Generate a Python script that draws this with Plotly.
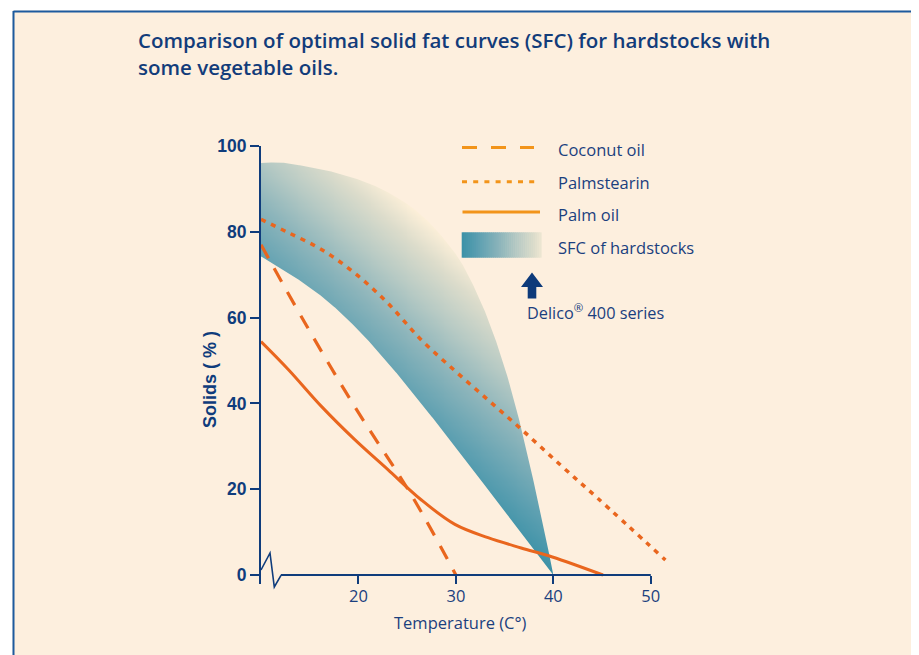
import numpy as np
import plotly.graph_objects as go

# ---------------- data ----------------
coconut_t = [10, 14.5, 19.6, 25.5, 30]
coconut_v = [77, 58.8, 39.3, 18.4, 0]

stearin_t = [10, 12.8, 16.2, 19.6, 23.0, 26.4, 29.9, 33.3, 36.7, 40.8, 44.5, 51.5]
stearin_v = [82.9, 79.8, 75.9, 70.4, 63.4, 54.9, 47.6, 40.8, 34.0, 25.5, 18.0, 3.5]

palm_t = [10, 12.8, 16.2, 19.6, 23.0, 26.4, 29.9, 33.3, 36.7, 39.9, 45.1]
palm_v = [54.4, 47.9, 39.3, 31.6, 24.6, 17.6, 11.8, 8.7, 6.3, 4.2, 0]

sfc_upper_t = [10, 11.5, 14.5, 19.6, 24.8, 29.9, 32.4, 34.5, 36.0, 37.2, 38.3, 39.2, 40]
sfc_upper_v = [96, 96.2, 95.3, 92.5, 86.8, 75.1, 64.5, 52.0, 40.5, 29.5, 18.5, 9.0, 0]
sfc_lower_t = [10, 12.8, 16.2, 19.6, 23.0, 26.4, 29.9, 33.3, 36.7, 40]
sfc_lower_v = [74.3, 70.4, 65.0, 58.0, 49.5, 40.1, 30.0, 19.9, 9.8, 0]

x_ticks = [20, 30, 40, 50]
y_ticks = [0, 20, 40, 60, 80, 100]

legend_labels = ["Coconut oil", "Palmstearin", "Palm oil", "SFC of hardstocks"]
title_text = "Comparison of optimal solid fat curves (SFC) for hardstocks with<br>some vegetable oils."
note_text = "Delico<sup>®</sup> 400 series"
x_title = "Temperature (C°)"
y_title = "Solids ( % )"

# ---------------- styles ----------------
BG = "#FDEFDE"
NAVY = "#0f3c7c"
TXT = "#1b3f7e"
LINE = "#E9661E"
LEG = "#F2941A"
GRAD = [[0.0, "#3b91a7"], [0.2, "#5ea0b1"], [0.45, "#8db5bb"], [0.65, "#b7cac4"],
        [0.85, "#dcdccb"], [1.0, "#fcefd8"]]

# the page body has an 8px margin: the figure is placed at (8, 8) in the window
OFF = 8
W, H = 919 - OFF, 655 - OFF
L, R, T, B = 253, 239, 138, 71
PW, PH = W - L - R, H - T - B
PLOT_X0 = OFF + L          # page x of plot left edge
PLOT_Y1 = OFF + T + PH     # page y of plot bottom edge
XR = [10, 53]
YR = [-2.1, 100]


def px(x):      # page pixel x -> paper
    return (x - PLOT_X0) / PW


def py(y):      # page pixel y -> paper
    return (PLOT_Y1 - y) / PH


def pchip(xk, yk, x):
    xk = np.asarray(xk, float)
    yk = np.asarray(yk, float)
    h = np.diff(xk)
    d = np.diff(yk) / h
    n = len(xk)
    m = np.zeros(n)
    for i in range(1, n - 1):
        if d[i - 1] * d[i] > 0:
            w1 = 2 * h[i] + h[i - 1]
            w2 = h[i] + 2 * h[i - 1]
            m[i] = (w1 + w2) / (w1 / d[i - 1] + w2 / d[i])
    m[0] = d[0]
    m[-1] = d[-1]
    idx = np.clip(np.searchsorted(xk, x) - 1, 0, n - 2)
    t = (x - xk[idx]) / h[idx]
    h00 = 2 * t**3 - 3 * t**2 + 1
    h10 = t**3 - 2 * t**2 + t
    h01 = -2 * t**3 + 3 * t**2
    h11 = t**3 - t**2
    return (h00 * yk[idx] + h10 * h[idx] * m[idx]
            + h01 * yk[idx + 1] + h11 * h[idx] * m[idx + 1])


def hex2rgb(c):
    c = c.lstrip("#")
    return [int(c[i:i + 2], 16) for i in (0, 2, 4)]


def scale_color(f):
    for (a, ca), (b, cb) in zip(GRAD[:-1], GRAD[1:]):
        if a <= f <= b:
            u = (f - a) / (b - a)
            A, Bc = hex2rgb(ca), hex2rgb(cb)
            return "rgb(%d,%d,%d)" % tuple(round(A[k] + (Bc[k] - A[k]) * u) for k in range(3))
    return GRAD[-1][1]


fig = go.Figure()

# ---------------- SFC band: gradient heatmap, trimmed by vector masks ----------------
gx = np.arange(10, 40.0001, 0.1)
gy = np.arange(-1, 98.0, 0.25)
up = pchip(sfc_upper_t, sfc_upper_v, gx)
lo = pchip(sfc_lower_t, sfc_lower_v, gx)
XX, YY = np.meshgrid(gx, gy)
zz = 8.775 * XX + 4.29 * YY
inside = (YY >= lo[None, :] - 1.2) & (YY <= up[None, :] + 1.2)
zz = np.where(inside, zz, np.nan).astype(np.float32)
fig.add_trace(go.Heatmap(x=gx, y=gy, z=zz, colorscale=GRAD, zmin=351, zmax=592,
                         showscale=False, hoverinfo="skip", zsmooth=False))

dx = np.linspace(10, 40, 400)
up_d = pchip(sfc_upper_t, sfc_upper_v, dx)
lo_d = pchip(sfc_lower_t, sfc_lower_v, dx)
mask_style = dict(mode="lines", fill="toself", fillcolor=BG, line=dict(width=0),
                  hoverinfo="skip", showlegend=False)
fig.add_trace(go.Scatter(x=np.concatenate([[9.5], dx, [40.6, 40.6, 9.5]]),
                         y=np.concatenate([[up_d[0]], up_d, [-0.3, 101, 101]]), **mask_style))
fig.add_trace(go.Scatter(x=np.concatenate([[9.5], dx, [40.6, 40.6, 9.5]]),
                         y=np.concatenate([[lo_d[0]], lo_d, [-0.3, -3, -3]]), **mask_style))

# ---------------- lines ----------------
fig.add_trace(go.Scatter(x=coconut_t, y=coconut_v, mode="lines", name=legend_labels[0],
                         line=dict(color=LINE, width=3.2, dash="15px,12px", shape="spline")))
fig.add_trace(go.Scatter(x=stearin_t, y=stearin_v, mode="lines", name=legend_labels[1],
                         line=dict(color=LINE, width=3.5, dash="5px,6px", shape="spline")))
fig.add_trace(go.Scatter(x=palm_t, y=palm_v, mode="lines", name=legend_labels[2],
                         line=dict(color=LINE, width=3, shape="spline")))

shapes = []
# page frame
shapes.append(dict(type="rect", xref="paper", yref="paper", x0=px(0), x1=px(930),
                   y0=py(10.5), y1=py(0), fillcolor="white", line=dict(width=0), layer="below"))
shapes.append(dict(type="rect", xref="paper", yref="paper", x0=px(0), x1=px(12.5),
                   y0=py(660), y1=py(0), fillcolor="white", line=dict(width=0), layer="below"))
shapes.append(dict(type="line", xref="paper", yref="paper", x0=px(13.5), x1=px(930),
                   y0=py(11.5), y1=py(11.5), line=dict(color="#1d5a9e", width=2)))
shapes.append(dict(type="line", xref="paper", yref="paper", x0=px(13.5), x1=px(13.5),
                   y0=py(11), y1=py(660), line=dict(color="#1d5a9e", width=2)))

# x axis line with break
shapes.append(dict(type="path", xref="paper", yref="paper",
                   path="M %f,%f L %f,%f L %f,%f L %f,%f" % (px(261), py(570), px(270), py(553),
                                                           px(274.3), py(587), px(281), py(575.3)),
                   line=dict(color=NAVY, width=1.6)))
shapes.append(dict(type="line", xref="x", yref="y", x0=12.03, x1=50, y0=0, y1=0,
                   line=dict(color=NAVY, width=2)))

# legend samples
shapes.append(dict(type="line", xref="paper", yref="paper", x0=px(462), x1=px(534),
                   y0=py(147.5), y1=py(147.5), line=dict(color=LEG, width=3, dash="15px,14px")))
shapes.append(dict(type="line", xref="paper", yref="paper", x0=px(462), x1=px(537),
                   y0=py(181.7), y1=py(181.7), line=dict(color=LEG, width=3, dash="5px,6.2px")))
shapes.append(dict(type="line", xref="paper", yref="paper", x0=px(462.5), x1=px(540),
                   y0=py(212), y1=py(212), line=dict(color=LEG, width=3)))
n_sw = 40
x_sw0, x_sw1 = 461.7, 541
for i in range(n_sw):
    a = x_sw0 + (x_sw1 - x_sw0) * i / n_sw
    b = x_sw0 + (x_sw1 - x_sw0) * (i + 1) / n_sw
    shapes.append(dict(type="rect", xref="paper", yref="paper", x0=px(a), x1=px(b + 0.6),
                       y0=py(257.7), y1=py(232.3),
                       fillcolor=scale_color(0.93 * (i + 0.5) / n_sw), line=dict(width=0)))
# arrow
shapes.append(dict(type="path", xref="paper", yref="paper",
                   path="M %f,%f L %f,%f L %f,%f L %f,%f L %f,%f L %f,%f L %f,%f Z" % (
                       px(532), py(272.5), px(543), py(287), px(536.3), py(287), px(536.3), py(298.5),
                       px(527.7), py(298.5), px(527.7), py(287), px(521), py(287)),
                   fillcolor="#0d3a7a", line=dict(width=0)))

annotations = []
annotations.append(dict(xref="paper", yref="paper", x=px(136), y=py(54), xanchor="left",
                        yanchor="middle", align="left", showarrow=False, text=title_text,
                        font=dict(family="Open Sans", size=20.5, color="#123c7a", weight=600)))
for lab, yc in zip(legend_labels, [149.5, 182.5, 214.5, 247.5]):
    annotations.append(dict(xref="paper", yref="paper", x=px(556), y=py(yc), xanchor="left",
                            yanchor="middle", showarrow=False, text=lab,
                            font=dict(family="Open Sans", size=16.5, color=TXT)))
annotations.append(dict(xref="paper", yref="paper", x=px(525), y=py(312), xanchor="left",
                        yanchor="middle", showarrow=False, text=note_text,
                        font=dict(family="Open Sans", size=16.3, color=TXT)))
annotations.append(dict(xref="paper", yref="paper", x=px(210), y=py(380), xanchor="center",
                        yanchor="middle", showarrow=False, text=y_title, textangle=-90,
                        font=dict(family="Liberation Sans", size=18, color=NAVY, weight="bold")))
annotations.append(dict(xref="paper", yref="paper", x=px(460), y=py(622), xanchor="center",
                        yanchor="middle", showarrow=False, text=x_title,
                        font=dict(family="Open Sans", size=16.5, color=TXT)))

fig.update_layout(
    width=W, height=H, margin=dict(l=L, r=R, t=T, b=B, pad=0),
    paper_bgcolor=BG, plot_bgcolor=BG, showlegend=False,
    shapes=shapes, annotations=annotations,
    xaxis=dict(range=XR, tickvals=x_ticks, ticks="inside", ticklen=8.5, tickwidth=2,
               tickcolor=NAVY, showline=False, showgrid=False, zeroline=False,
               tickfont=dict(family="Open Sans", size=16.5, color=TXT)),
    yaxis=dict(range=YR, tickvals=y_ticks, ticks="outside", ticklen=9, tickwidth=2,
               tickcolor=NAVY, showline=True, linecolor=NAVY, linewidth=2,
               showgrid=False, zeroline=False,
               tickfont=dict(family="Liberation Sans", size=17.5, color=NAVY, weight="bold")),
)
fig.write_html("out.html")
